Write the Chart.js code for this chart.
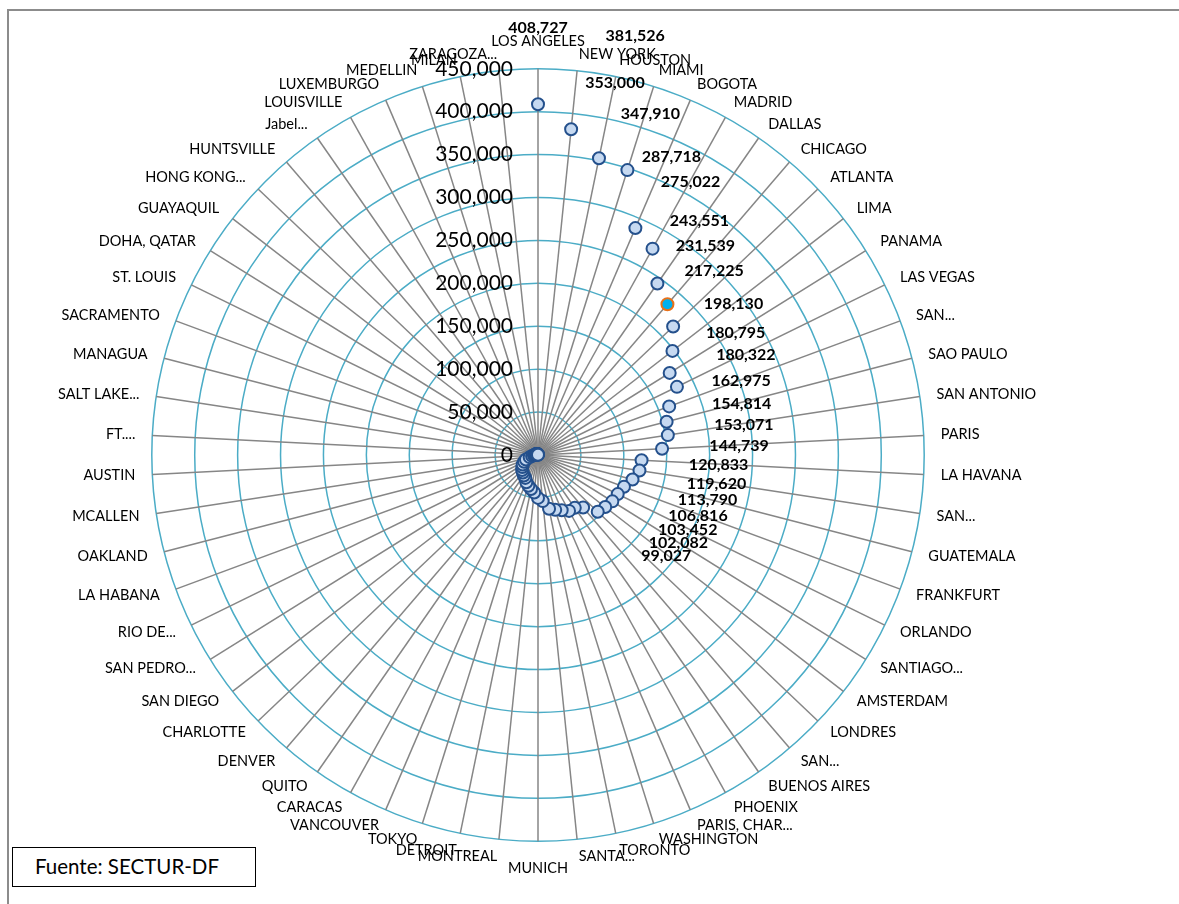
<!DOCTYPE html>
<html>
<head>
<meta charset="utf-8">
<script src="https://cdn.jsdelivr.net/npm/chart.js@4.4.0/dist/chart.umd.min.js"></script>
<style>
  html, body { margin: 0; padding: 0; background: #fff; width: 1179px; height: 904px; overflow: hidden; font-family: Lato, sans-serif; }
  #frame { position: absolute; left: 7px; top: 9px; width: 1200px; height: 920px; border-left: 2px solid #8c8c8c; border-top: 2px solid #8c8c8c; }
  #wrap { position: absolute; left: -21px; top: 0px; width: 1119px; height: 875px; }
  #source { position: absolute; left: 12px; top: 847px; width: 244px; height: 40px; border: 1.5px solid #000; box-sizing: border-box; background: #fff;
            font-size: 20.5px; line-height: 37px; padding-left: 22px; color: #000; }
</style>
</head>
<body>
<div id="frame"></div>
<div id="wrap"><canvas id="radar-chart"></canvas></div>
<div id="source">Fuente: SECTUR-DF</div>
<script>
// Destinations, clockwise from the top
const cities = [
  "LOS ANGELES", "NEW YORK", "HOUSTON", "MIAMI", "BOGOTA", "MADRID", "DALLAS", "CHICAGO",
  "ATLANTA", "LIMA", "PANAMA", "LAS VEGAS", "SAN...", "SAO PAULO", "SAN ANTONIO", "PARIS",
  "LA HAVANA", "SAN...", "GUATEMALA", "FRANKFURT", "ORLANDO", "SANTIAGO...", "AMSTERDAM", "LONDRES",
  "SAN...", "BUENOS AIRES", "PHOENIX", "PARIS, CHAR...", "WASHINGTON", "TORONTO", "SANTA...", "MUNICH",
  "MONTREAL", "DETROIT", "TOKYO", "VANCOUVER", "CARACAS", "QUITO", "DENVER", "CHARLOTTE",
  "SAN DIEGO", "SAN PEDRO...", "RIO DE...", "LA HABANA", "OAKLAND", "MCALLEN", "AUSTIN", "FT....",
  "SALT LAKE...", "MANAGUA", "SACRAMENTO", "ST. LOUIS", "DOHA, QATAR", "GUAYAQUIL", "HONG KONG...", "HUNTSVILLE",
  "Jabel...", "LOUISVILLE", "LUXEMBURGO", "MEDELLIN", "MILAN", "ZARAGOZA..."
];

const passengers = [
  408727, 381526, 353000, 347910, 287718, 275022, 243551, 231539,
  217225, 198130, 180795, 180322, 162975, 154814, 153071, 144739,
  120833, 119620, 113790, 106816, 103452, 102082, 99027, 96000,
  80700, 75000, 74500, 70000, 67000, 64000, 54000, 50000,
  44000, 40500, 37500, 34500, 30500, 29000, 27000, 25500,
  23000, 21000, 18000, 15000, 10000, 7000, 4800, 3600,
  3200, 2900, 2600, 2300, 2000, 1800, 1600, 1400,
  1200, 1000, 800, 600, 400, 300
];

const labelledCount = 23;
const highlightIndex = 7;
const radiusTicks = [0, 50000, 100000, 150000, 200000, 250000, 300000, 350000, 400000, 450000];

// where each value label sits relative to its marker (manual layout as in the source)
const labelNudge = [
  [0, -76], [64, -93], [16, -75], [23, -56], [36, -71], [38, -67], [42, -63], [38, -58],
  [41, -56], [61, -47], [66, -40], [69, -32], [72, -26], [75, -18], [76, -10], [77, -3],
  [77, 5], [77, 13], [75, 20], [74, 29], [70, 36], [66, 42], [61, 49]
];

const fmt = (v) => v.toLocaleString("en-US");
const labelGap = 17;

// Category names placed like Excel does: side labels vertically centred on their spoke
const cityLabels = {
  id: "cityLabels",
  afterDraw(chart) {
    const ctx = chart.ctx;
    const scale = chart.scales.r;
    const n = cities.length;
    ctx.save();
    ctx.fillStyle = "#000";
    ctx.font = "14.5px Lato";
    cities.forEach((name, i) => {
      const p = scale.getPointPosition(i, scale.drawingArea + labelGap);
      const deg = (i * 360) / n;
      let y = p.y;
      if (deg === 0) {
        ctx.textAlign = "center";
        y -= 10;
      } else if (deg === 180) {
        ctx.textAlign = "center";
        y += 10;
      } else {
        ctx.textAlign = deg < 180 ? "left" : "right";
      }
      ctx.textBaseline = "middle";
      ctx.fillText(name, p.x, y);
    });
    ctx.restore();
  }
};

// Tick labels to the left of the vertical axis, plus the bold value labels
const valueLabels = {
  id: "valueLabels",
  afterDatasetsDraw(chart) {
    const ctx = chart.ctx;
    const scale = chart.scales.r;
    ctx.save();
    ctx.fillStyle = "#000";
    ctx.font = "21px Lato";
    ctx.textAlign = "right";
    ctx.textBaseline = "middle";
    radiusTicks.forEach((t) => {
      const y = scale.yCenter - scale.getDistanceFromCenterForValue(t);
      ctx.fillText(fmt(t), scale.xCenter - 25, y);
    });

    const meta = chart.getDatasetMeta(0);
    ctx.font = "bold 16px Lato";
    ctx.textAlign = "center";
    for (let i = 0; i < labelledCount; i++) {
      const pt = meta.data[i];
      ctx.fillText(fmt(passengers[i]), pt.x + labelNudge[i][0], pt.y + labelNudge[i][1]);
    }
    ctx.restore();
  }
};

const fills = passengers.map((v, i) => (i === highlightIndex ? "#00b0f0" : "#c6d9f1"));
const borders = passengers.map((v, i) => (i === highlightIndex ? "#e8711a" : "#24508c"));

new Chart(document.getElementById("radar-chart").getContext("2d"), {
  type: "radar",
  data: {
    labels: cities,
    datasets: [{
      data: passengers,
      showLine: false,
      fill: false,
      pointRadius: 6,
      pointBorderWidth: 2,
      pointBackgroundColor: fills,
      pointBorderColor: borders
    }]
  },
  options: {
    responsive: true,
    maintainAspectRatio: false,
    animation: false,
    events: [],
    layout: { padding: { top: 35 } },
    plugins: { legend: { display: false }, tooltip: { enabled: false } },
    scales: {
      r: {
        min: 0,
        max: 450000,
        startAngle: 0,
        ticks: { stepSize: 50000, display: false },
        grid: { circular: true, color: "#4bacc6", lineWidth: 1.5 },
        angleLines: { color: "#868686", lineWidth: 1.5 },
        // kept for sizing only; the visible names come from the cityLabels plugin
        pointLabels: { font: { family: "Lato", size: 14 }, color: "rgba(0,0,0,0)", padding: labelGap }
      }
    }
  },
  plugins: [valueLabels, cityLabels]
});
</script>
</body>
</html>
